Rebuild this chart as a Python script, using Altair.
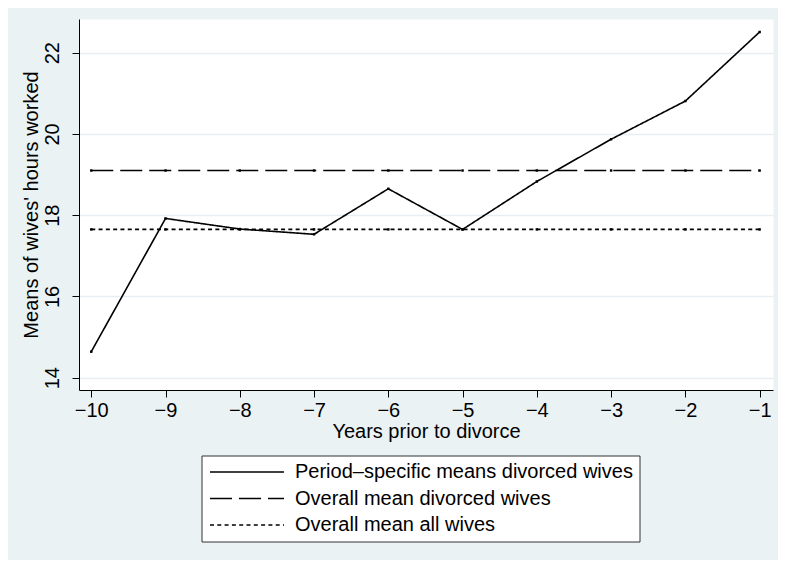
import altair as alt
import pandas as pd

years = [-10, -9, -8, -7, -6, -5, -4, -3, -2, -1]
period_means = [14.64, 17.92, 17.66, 17.53, 18.65, 17.65, 18.83, 19.87, 20.81, 22.51]
overall_divorced = 19.10
overall_all = 17.65
y_ticks = [14, 16, 18, 20, 22]
series_names = [
    "Period\u2013specific means divorced wives",
    "Overall mean divorced wives",
    "Overall mean all wives",
]
dash_patterns = [[1, 0], [22, 7], [4, 3.3]]

rows = []
for x, v in zip(years, period_means):
    rows.append({"year": x, "value": v, "series": series_names[0]})
for x in years:
    rows.append({"year": x, "value": overall_divorced, "series": series_names[1]})
for x in years:
    rows.append({"year": x, "value": overall_all, "series": series_names[2]})
df = pd.DataFrame(rows)

FONT = "Liberation Sans"
FS = 20

x_enc = alt.X(
    "year:Q",
    scale=alt.Scale(domain=[-10.165, -0.82], nice=False, zero=False),
    axis=alt.Axis(
        values=years,
        format="d",
        title="Years prior to divorce",
        grid=False,
        labelFlush=False,
        labelPadding=3,
        titlePadding=1,
    ),
)
y_enc = alt.Y(
    "value:Q",
    scale=alt.Scale(domain=[13.697, 22.83], nice=False, zero=False),
    axis=alt.Axis(
        values=y_ticks,
        format="d",
        title="Means of wives' hours worked",
        grid=True,
        gridColor="#E6EFF1",
        gridWidth=1.5,
        labelAngle=270,
        labelPadding=10,
        titlePadding=1,
    ),
)

lines = alt.Chart(df).mark_line(strokeWidth=1.6, color="black").encode(
    x=x_enc,
    y=y_enc,
    strokeDash=alt.StrokeDash(
        "series:N",
        scale=alt.Scale(domain=series_names, range=dash_patterns),
        legend=alt.Legend(
            title=None,
            orient="none",
            legendX=122.5,
            legendY=436.5,
            direction="vertical",
            symbolType="M-4,0H33",
            symbolSize=16,
            symbolStrokeWidth=1.6,
            symbolStrokeColor="black",
            labelFont=FONT,
            labelFontSize=FS,
            labelColor="black",
            labelOffset=67,
            labelLimit=600,
            rowPadding=6.5,
            padding=6.5,
            strokeColor="#333333",
            fillColor="white",
        ),
    ),
)

points = alt.Chart(df).mark_square(size=6, color="black", opacity=1).encode(
    x=alt.X("year:Q"),
    y=alt.Y("value:Q"),
    detail="series:N",
)

chart = (
    alt.layer(lines, points)
    .properties(
        width=694,
        height=371,
        background="#EAF2F3",
        padding={"left": 71, "top": 11, "right": 5, "bottom": 170},
        autosize=alt.AutoSizeParams(type="none"),
    )
    .configure_view(fill="white", stroke="transparent")
    .configure_axis(
        domainColor="black",
        domainWidth=1,
        tickColor="black",
        tickSize=7,
        tickWidth=1,
        labelFont=FONT,
        labelFontSize=FS,
        labelColor="black",
        titleFont=FONT,
        titleFontSize=FS,
        titleFontWeight="normal",
        titleColor="black",
    )
)

chart.save("out.html", embed_options={"renderer": "svg", "actions": False})
